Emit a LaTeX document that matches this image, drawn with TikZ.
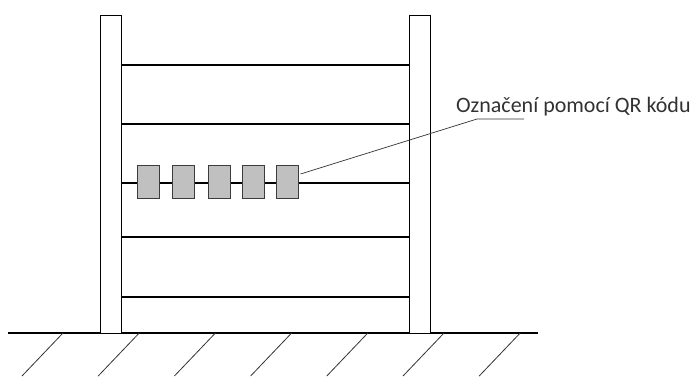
\documentclass[tikz,border=0pt]{standalone}
\usepackage{fontspec}
\setmainfont{Carlito}
\usepackage{tikz}
\usetikzlibrary{calc}
\definecolor{tagfill}{RGB}{192,192,192}
\definecolor{tagedge}{RGB}{60,60,60}
\definecolor{leadcolor}{RGB}{50,50,50}

\tikzset{
  post/.style={draw=black, line width=0.8pt, fill=white},
  rail/.style={line width=2pt},
  qrtag/.style={draw=tagedge, line width=1pt, fill=tagfill,
    minimum width=22pt, minimum height=33pt, inner sep=0pt},
  hatch/.style={line width=0.8pt, black!80},
}

\begin{document}
\begin{tikzpicture}[x=1pt, y=-1pt]
    \useasboundingbox (0,0) rectangle (692,376);

    % ground with hatching
    \draw[line width=1.4pt] (8,333) -- (538,333);
    \foreach \i in {0,...,6}
      \draw[hatch] ({63+76.2*\i},333) -- ++(-41,43);

    % rails between the posts
    \foreach \y in {65,124,183,237,297}
      \draw[rail] (121,\y) -- (409,\y);

    % posts
    \draw[post] (100,15) rectangle (121,333);
    \draw[post] (409,15) rectangle (430,333);

    % QR tags on the middle rail
    \foreach \n/\x in {1/148,2/183,3/219,4/253,5/287}
      \node[qrtag] (q\n) at (\x,182) {};

    % leader and label
    \coordinate (knee) at (477,119);
    \coordinate (tail) at (524,119);
    \draw[leadcolor, line width=0.7pt] ([xshift=2pt,yshift=8pt]q5.east) -- (knee) -- (tail);
    \node[anchor=base west, inner sep=0pt, text=leadcolor, font=\fontsize{22}{24}\selectfont]
      (lbl) at (456,112) {Označení pomocí QR kódu};
\end{tikzpicture}
\end{document}
